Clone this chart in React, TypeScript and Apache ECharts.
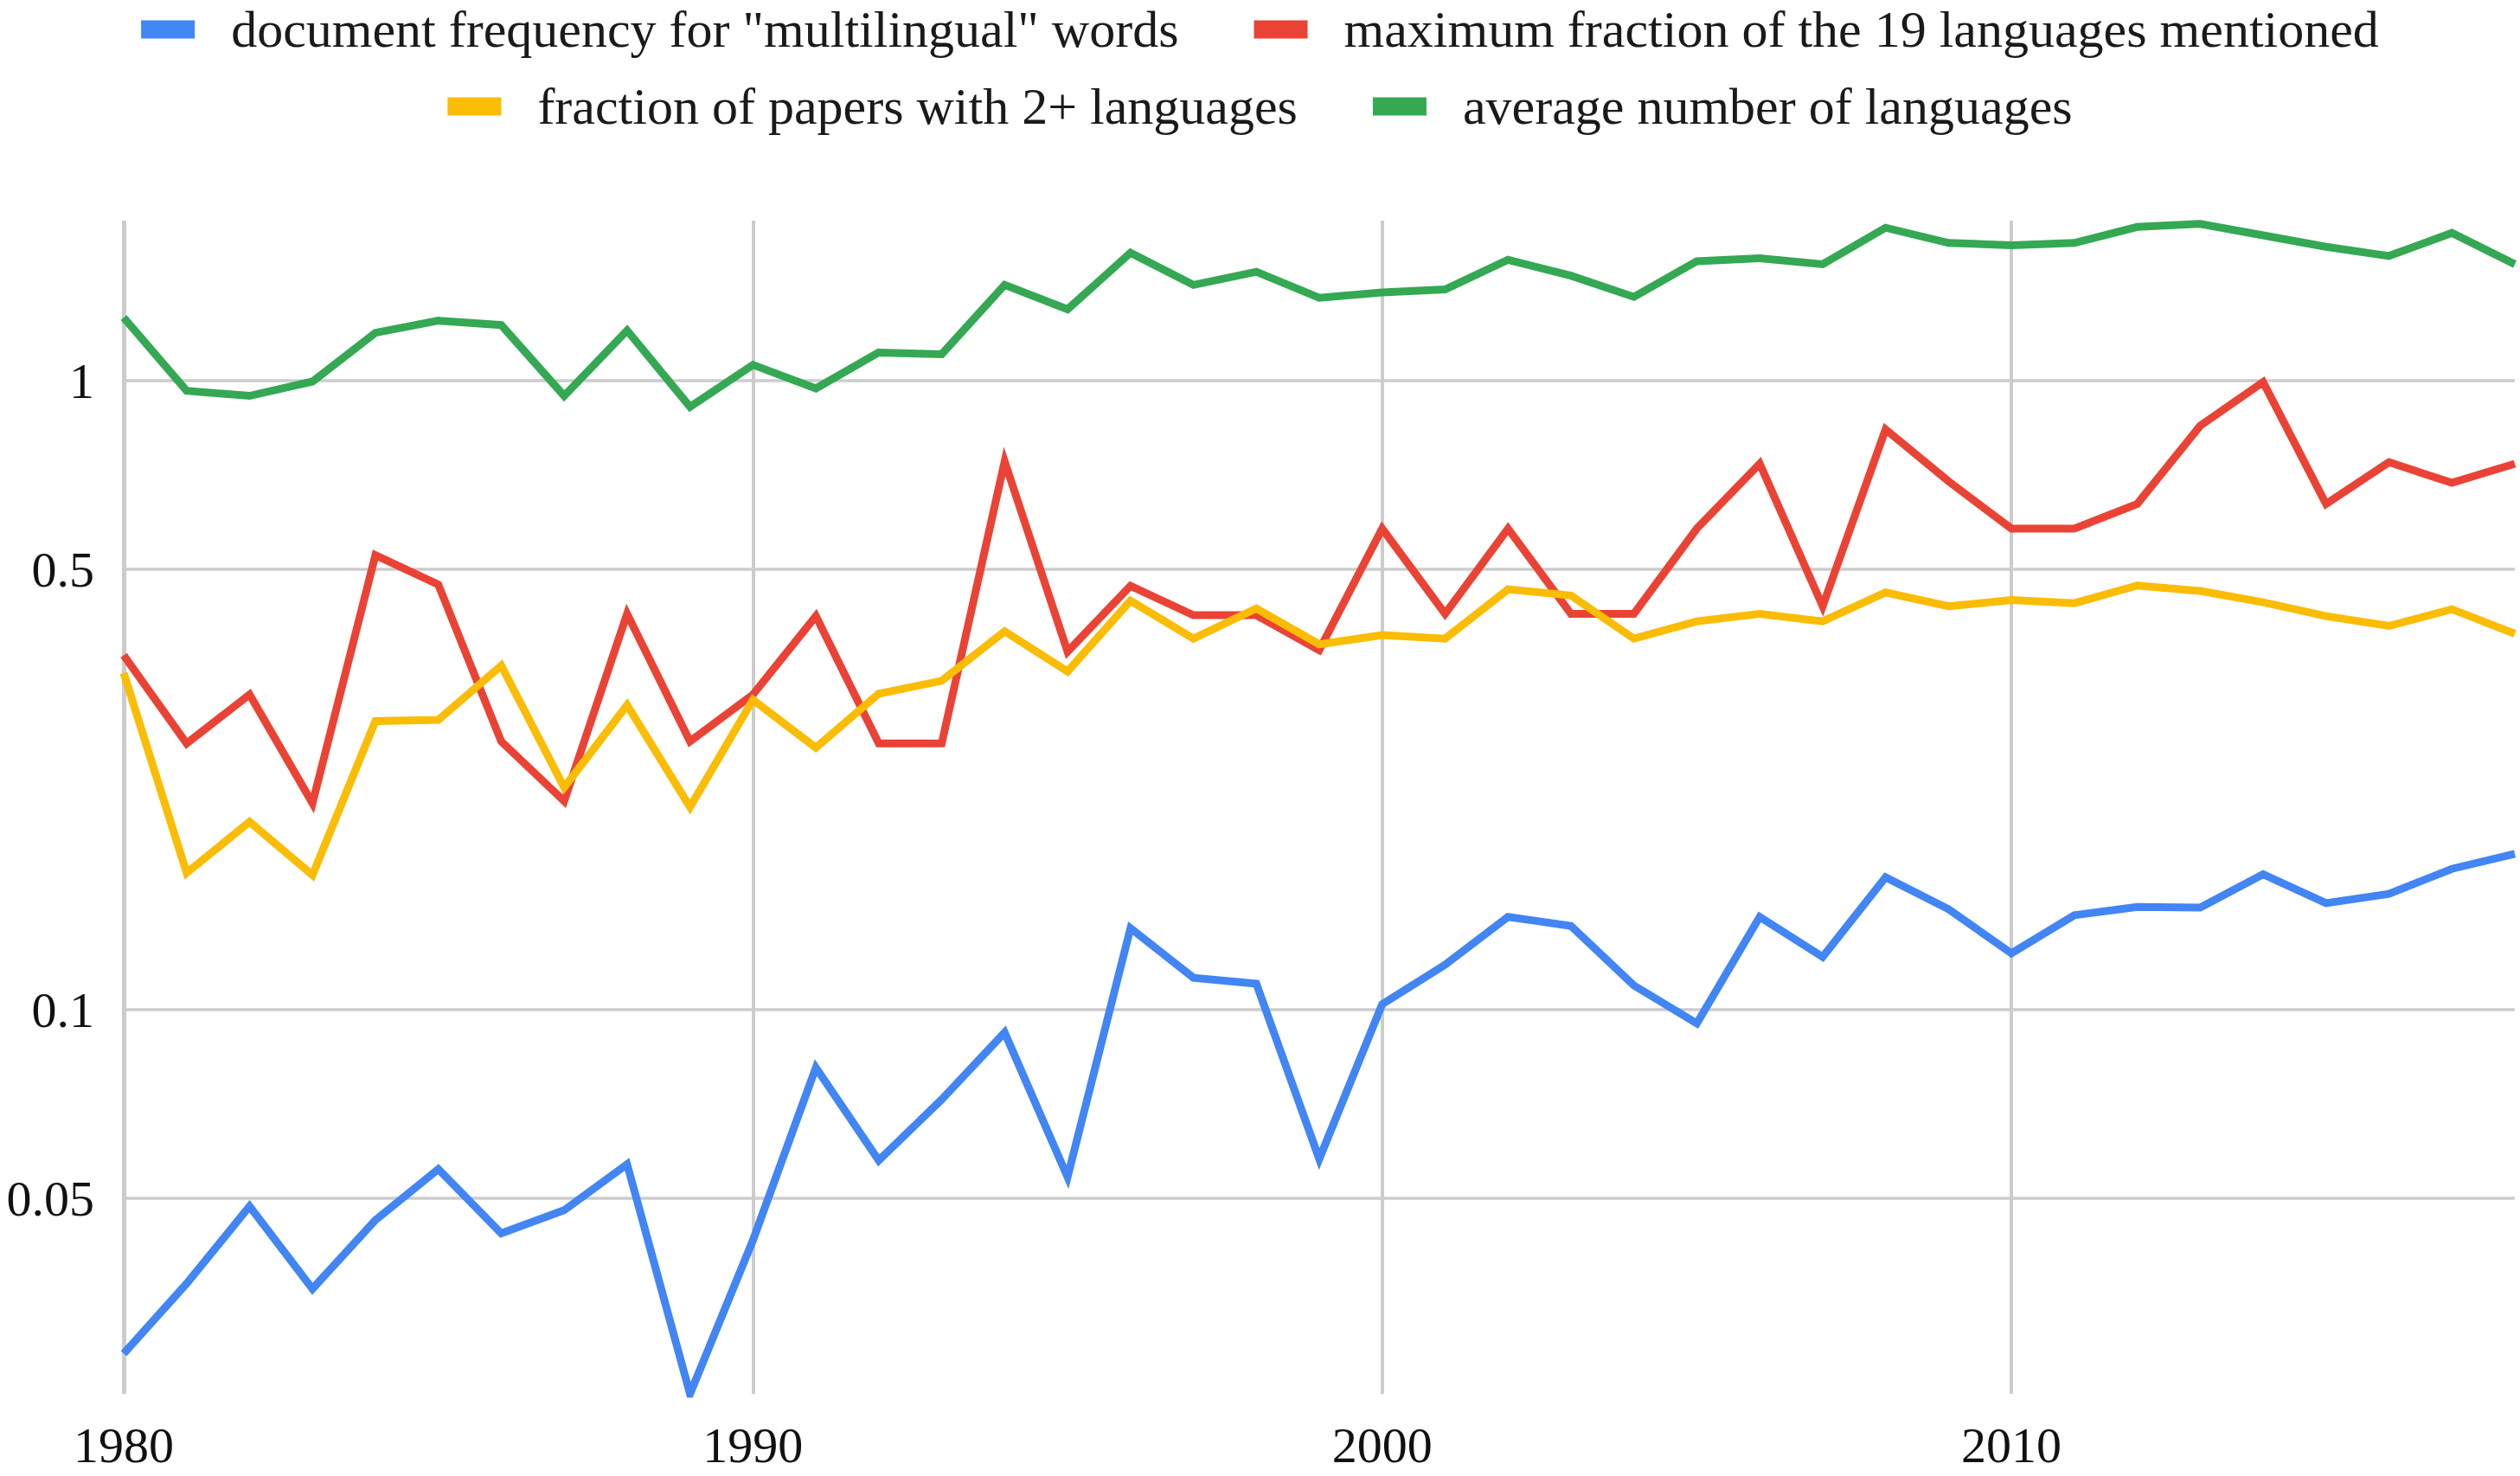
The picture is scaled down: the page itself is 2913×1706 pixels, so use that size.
import React, { useEffect, useRef } from "react";
import * as echarts from "echarts";

const years = [
  1980, 1981, 1982, 1983, 1984, 1985, 1986, 1987, 1988, 1989,
  1990, 1991, 1992, 1993, 1994, 1995, 1996, 1997, 1998, 1999,
  2000, 2001, 2002, 2003, 2004, 2005, 2006, 2007, 2008, 2009,
  2010, 2011, 2012, 2013, 2014, 2015, 2016, 2017, 2018,
];

const seriesNames = [
  'document frequency for "multilingual" words',
  "maximum fraction of the 19 languages mentioned",
  "fraction of papers with 2+ languages",
  "average number of languages",
];

const seriesColors = ["#4285F4", "#EA4335", "#FBBC04", "#34A853"];

const docFrequency = [
  0.0284, 0.0367, 0.0487, 0.036, 0.0463, 0.0558, 0.0441, 0.048, 0.0568, 0.0245,
  0.043, 0.0809, 0.0576, 0.072, 0.092, 0.0542, 0.1348, 0.1124, 0.11, 0.0579,
  0.102, 0.1179, 0.1405, 0.1359, 0.1093, 0.0951, 0.1405, 0.1213, 0.1624, 0.1445,
  0.1229, 0.1413, 0.1457, 0.1453, 0.1642, 0.1477, 0.1528, 0.1675, 0.177,
];

const maxFraction = [
  0.366, 0.265, 0.317, 0.213, 0.528, 0.474, 0.267, 0.2146, 0.426, 0.267,
  0.317, 0.4225, 0.265, 0.265, 0.744, 0.371, 0.472, 0.424, 0.424, 0.373,
  0.582, 0.426, 0.582, 0.426, 0.426, 0.582, 0.738, 0.438, 0.837, 0.692,
  0.582, 0.582, 0.637, 0.848, 0.995, 0.637, 0.742, 0.688, 0.738,
];

const fracTwoPlus = [
  0.343, 0.165, 0.199, 0.1637, 0.2876, 0.289, 0.3525, 0.2257, 0.305, 0.21,
  0.311, 0.261, 0.318, 0.3334, 0.3996, 0.345, 0.447, 0.389, 0.4345, 0.381,
  0.394, 0.389, 0.466, 0.4556, 0.389, 0.4145, 0.426, 0.4145, 0.4607, 0.438,
  0.448, 0.443, 0.4725, 0.4632, 0.4443, 0.4225, 0.4075, 0.4333, 0.396,
];

const avgLanguages = [
  1.26, 0.964, 0.946, 0.997, 1.192, 1.246, 1.226, 0.946, 1.202, 0.909,
  1.06, 0.972, 1.109, 1.102, 1.42, 1.299, 1.597, 1.42, 1.49, 1.355,
  1.382, 1.397, 1.557, 1.469, 1.359, 1.549, 1.566, 1.532, 1.751, 1.656,
  1.642, 1.656, 1.756, 1.776, 1.703, 1.633, 1.579, 1.718, 1.532,
];

const yTickValues = [0.05, 0.1, 0.5, 1];
const xTickValues = [1980, 1990, 2000, 2010];
const yRange = [0.02451, 1.797];
const xRange = [1980, 2018];

const FONT = "'Liberation Serif', 'Times New Roman', serif";

export default function App() {
  const ref = useRef<HTMLDivElement>(null);

  useEffect(() => {
    if (!ref.current) return;
    document.body.style.margin = "0";
    const chart = echarts.init(ref.current, null, { renderer: "svg" });

    const allValues = [docFrequency, maxFraction, fracTwoPlus, avgLanguages];
    const yTickLogs = yTickValues.map((v) => Math.log10(v));

    const gridLines: any[] = [
      ...yTickLogs.map((v) => ({
        yAxis: v,
        lineStyle: { color: "#cccccc", width: 3.5, type: "solid" },
      })),
      ...xTickValues.map((v, i) => ({
        xAxis: v,
        lineStyle: { color: "#cccccc", width: i === 0 ? 5 : 4, type: "solid" },
      })),
    ];

    const series: any[] = allValues.map((vals, i) => ({
      name: seriesNames[i],
      type: "line",
      data: years.map((y, j) => [y, Math.log10(vals[j])]),
      showSymbol: false,
      symbol: "none",
      smooth: false,
      clip: true,
      color: seriesColors[i],
      lineStyle: { color: seriesColors[i], width: 9, join: "miter", miterLimit: 10 },
      emphasis: { disabled: true },
      z: 2 + i,
      ...(i === 0
        ? {
            markLine: {
              silent: true,
              z: 1,
              symbol: ["none", "none"],
              label: { show: false },
              emphasis: { disabled: true },
              data: gridLines,
            },
          }
        : {}),
    }));

    const legendCommon = {
      left: "center",
      orient: "horizontal",
      icon: "rect",
      itemWidth: 62,
      itemHeight: 21,
      itemGap: 87,
      selectedMode: false,
      textStyle: {
        fontSize: 60,
        lineHeight: 50,
        fontFamily: FONT,
        color: "#1a1a1a",
        padding: [0, 0, 0, 37],
      },
    };

    chart.setOption({
      animation: false,
      textStyle: { fontFamily: FONT },
      legend: [
        { ...legendCommon, top: -1, data: [seriesNames[0], seriesNames[1]] },
        { ...legendCommon, top: 88, data: [seriesNames[2], seriesNames[3]] },
      ],
      grid: { left: 143, right: 6, top: 255, bottom: 95, containLabel: false },
      xAxis: {
        type: "value",
        min: xRange[0],
        max: xRange[1],
        interval: 10,
        axisLine: { show: false },
        axisTick: { show: false },
        splitLine: { show: false },
        axisLabel: {
          showMaxLabel: false,
          fontSize: 58,
          lineHeight: 44,
          fontFamily: FONT,
          color: "#111",
          margin: 37,
          formatter: (v: number) => String(v),
        },
      },
      yAxis: {
        type: "value",
        min: Math.log10(yRange[0]),
        max: Math.log10(yRange[1]),
        axisLine: { show: false },
        axisTick: { show: false, customValues: yTickLogs },
        splitLine: { show: false },
        axisLabel: {
          customValues: yTickLogs,
          fontSize: 58,
          fontFamily: FONT,
          color: "#111",
          margin: 34,
          formatter: (v: number) => {
            let best = yTickValues[0];
            for (const t of yTickValues) {
              if (Math.abs(Math.log10(t) - v) < Math.abs(Math.log10(best) - v)) best = t;
            }
            return String(best);
          },
        },
      },
      series,
    });

    return () => chart.dispose();
  }, []);

  return (
    <div
      ref={ref}
      style={{ position: "absolute", left: 0, top: 0, width: 2913, height: 1706 }}
    />
  );
}
